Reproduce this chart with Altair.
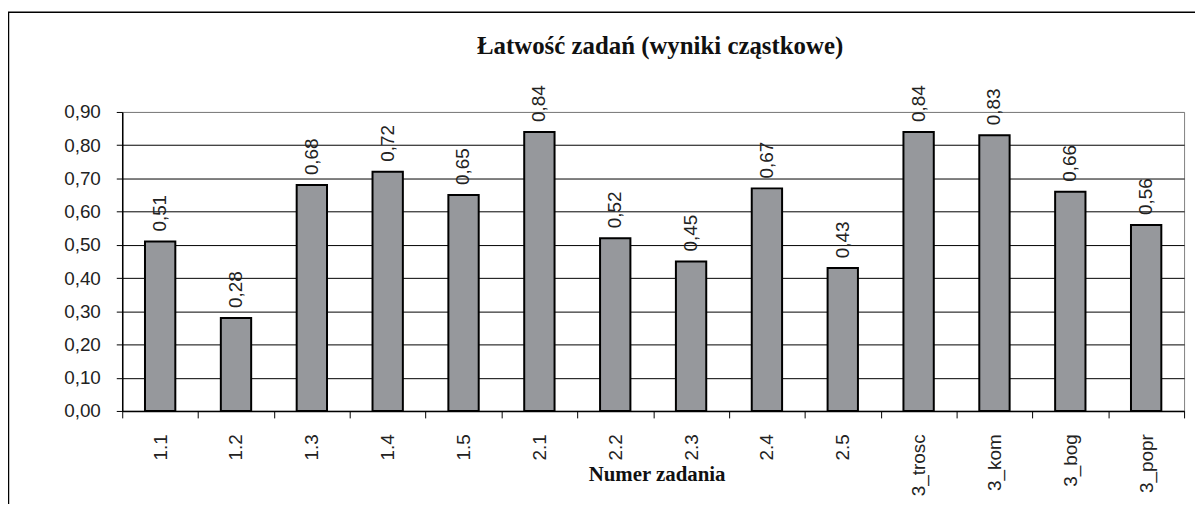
import altair as alt
import pandas as pd

categories = ["1.1", "1.2", "1.3", "1.4", "1.5", "2.1", "2.2", "2.3", "2.4", "2.5",
              "3_trosc", "3_kom", "3_bog", "3_popr"]
values = [0.51, 0.28, 0.68, 0.72, 0.65, 0.84, 0.52, 0.45, 0.67, 0.43,
          0.84, 0.83, 0.66, 0.56]
y_ticks = [0.0, 0.1, 0.2, 0.3, 0.4, 0.5, 0.6, 0.7, 0.8, 0.9]

title_text = "Łatwość zadań (wyniki cząstkowe)"
x_title = "Numer zadania"

df = pd.DataFrame({"zad": categories, "v": values})

W, H = 1069, 301

x_enc = alt.X(
    "zad:N", sort=categories,
    scale=alt.Scale(paddingInner=0, paddingOuter=0),
    axis=alt.Axis(
        title=x_title, titleFont="Liberation Serif", titleFontSize=21,
        titleFontWeight="bold", titleColor="#111", titleY=64, titleX=538,
        titleBaseline="middle",
        labelAngle=-90, labelFont="Liberation Sans", labelFontSize=19,
        labelColor="#222", labelPadding=16, tickBand="extent", tickSize=7,
        tickColor="black", domainColor="black", domainWidth=1.5, grid=False,
        labelOverlap=False,
    ),
)
y_enc = alt.Y(
    "v:Q",
    scale=alt.Scale(domain=[0, 0.9], nice=False, zero=True),
    axis=alt.Axis(
        title=None, values=y_ticks,
        labelExpr="replace(format(datum.value, '.2f'), '.', ',')",
        labelFont="Liberation Sans", labelFontSize=19, labelColor="#222",
        labelPadding=16, tickSize=6, tickColor="black",
        domainColor="black", domainWidth=1.5, labelOverlap=False,
        grid=True, gridWidth=1,
        gridColor=alt.condition("datum.value >= 0.89", alt.value("#808080"), alt.value("black")),
    ),
)

base = alt.Chart(df).transform_calculate(
    lab="replace(format(datum.v, '.2f'), '.', ',')"
).encode(x=x_enc, y=y_enc)

bars = base.mark_bar(
    width=alt.RelativeBandSize(0.4), fill="#96989c", stroke="black", strokeWidth=2
)

labels = base.mark_text(
    angle=270, align="left", baseline="middle", dx=10,
    font="Liberation Sans", fontSize=19, color="#222",
).encode(text="lab:N")

border = alt.Chart(alt.Data(values=[{}])).mark_rect(
    fill="transparent", stroke="black", strokeWidth=1.5
).encode(
    x=alt.value(-114.5), x2=alt.value(W + 40),
    y=alt.value(-100.5), y2=alt.value(H + 120),
)

chart = alt.layer(bars, labels, border).properties(
    width=W, height=H,
    title=alt.TitleParams(title_text, font="Liberation Serif", fontSize=25,
                          fontWeight="bold", color="#111", anchor="middle",
                          frame="group", baseline="middle", offset=0, dy=60, dx=7),
    autosize=alt.AutoSizeParams(type="none"),
    padding={"left": 115, "top": 103, "right": 11, "bottom": 92},
).configure_view(stroke="#808080", strokeWidth=1)

chart.save("out.html", embed_options={"renderer": "svg", "actions": False})
